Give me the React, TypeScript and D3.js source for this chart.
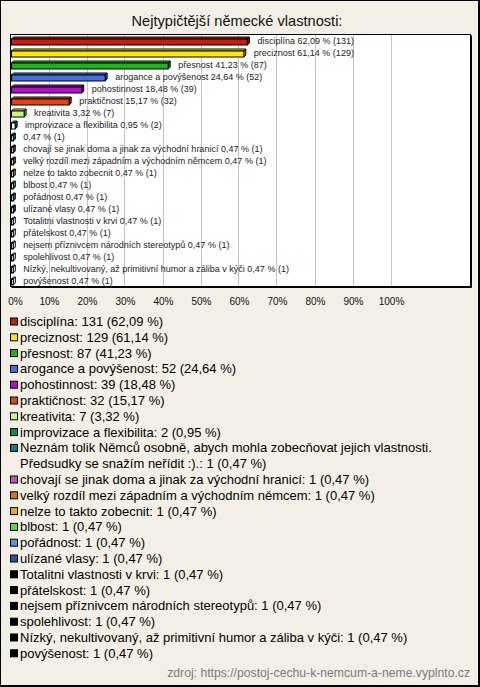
import React, { useMemo } from "react";
import * as d3 from "d3";

const title = "Nejtypičtější německé vlastnosti:";
const source = "zdroj: https://postoj-cechu-k-nemcum-a-neme.vyplnto.cz";

const categories = [
  "disciplína",
  "preciznost",
  "přesnost",
  "arogance a povýšenost",
  "pohostinnost",
  "praktičnost",
  "kreativita",
  "improvizace a flexibilita",
  "Neznám tolik Němců osobně, abych mohla zobecňovat jejich vlastnosti. Předsudky se snažím neřídit :).",
  "chovají se jinak doma a jinak za východní hranicí",
  "velký rozdíl mezi západním a východním němcem",
  "nelze to takto zobecnit",
  "blbost",
  "pořádnost",
  "ulízané vlasy",
  "Totalitni vlastnosti v krvi",
  "přátelskost",
  "nejsem příznivcem národních stereotypů",
  "spolehlivost",
  "Nízký, nekultivovaný, až primitivní humor a záliba v kýči",
  "povýšenost",
];

const barNames = [
  "disciplína",
  "preciznost",
  "přesnost",
  "arogance a povýšenost",
  "pohostinnost",
  "praktičnost",
  "kreativita",
  "improvizace a flexibilita",
  "",
  "chovají se jinak doma a jinak za východní hranicí",
  "velký rozdíl mezi západním a východním němcem",
  "nelze to takto zobecnit",
  "blbost",
  "pořádnost",
  "ulízané vlasy",
  "Totalitni vlastnosti v krvi",
  "přátelskost",
  "nejsem příznivcem národních stereotypů",
  "spolehlivost",
  "Nízký, nekultivovaný, až primitivní humor a záliba v kýči",
  "povýšenost",
];

const counts = [131, 129, 87, 52, 39, 32, 7, 2, 1, 1, 1, 1, 1, 1, 1, 1, 1, 1, 1, 1, 1];
const percents = [
  62.09, 61.14, 41.23, 24.64, 18.48, 15.17, 3.32, 0.95, 0.47, 0.47, 0.47, 0.47, 0.47, 0.47,
  0.47, 0.47, 0.47, 0.47, 0.47, 0.47, 0.47,
];

const colors = [
  "#C0200F",
  "#FFE600",
  "#20B020",
  "#4070E8",
  "#B010C8",
  "#E04412",
  "#C8F880",
  "#108A50",
  "#1A7890",
  "#C050C0",
  "#E0700A",
  "#E8B000",
  "#50E040",
  "#6090E0",
  "#2850B0",
  "#000000",
  "#000000",
  "#000000",
  "#000000",
  "#000000",
  "#000000",
];

const tickValues = [0, 10, 20, 30, 40, 50, 60, 70, 80, 90, 100];
const tickLabels = ["0%", "10%", "20%", "30%", "40%", "50%", "60%", "70%", "80%", "90%", "100%"];

const W = 480;
const H = 687;
const FONT = "'Liberation Sans', Arial, sans-serif";

const fmt = (v: number) => v.toFixed(2).replace(".", ",");

function wrapText(text: string, maxWidth: number, font: string): string[] {
  const canvas = document.createElement("canvas");
  const ctx = canvas.getContext("2d");
  if (!ctx) return [text];
  ctx.font = font;
  const words = text.split(" ");
  const lines: string[] = [];
  let cur = "";
  for (const w of words) {
    const test = cur ? cur + " " + w : w;
    if (ctx.measureText(test).width > maxWidth && cur) {
      lines.push(cur);
      cur = w;
    } else {
      cur = test;
    }
  }
  if (cur) lines.push(cur);
  return lines;
}

export default function App() {
  const plot = { left: 10.5, top: 34.5, right: 470.5, bottom: 286.5 };
  const x = d3.scaleLinear().domain([0, 100]).range([11.5, 391.5]);
  const y = d3
    .scaleBand<number>()
    .domain(d3.range(categories.length))
    .range([35, 287]);
  const depth = 2;
  const barH = 6;

  const legendLines = useMemo(() => {
    const out: { text: string; color: string | null; line: number }[] = [];
    let line = 0;
    categories.forEach((c, i) => {
      const txt = `${c}: ${counts[i]} (${fmt(percents[i])} %)`;
      const ls = wrapText(txt, 452, `13px ${FONT}`);
      ls.forEach((t, j) => {
        out.push({ text: t, color: j === 0 ? colors[i] : null, line });
        line++;
      });
    });
    return out;
  }, []);

  const legendY = d3.scaleLinear().domain([0, 1]).range([321.5, 337.3]);

  return (
    <svg
      width={W}
      height={H}
      style={{ position: "absolute", left: 0, top: 0, fontFamily: FONT }}
    >
      <rect x={0.5} y={0.5} width={W - 1} height={H - 1} fill="#F2F0E6" stroke="#000" />
      <line x1={W - 1.5} y1={1} x2={W - 1.5} y2={H - 1} stroke="#000" />
      <line x1={1} y1={H - 1.5} x2={W - 1} y2={H - 1.5} stroke="#000" />
      <text x={237} y={25.5} textAnchor="middle" fontSize={14.6} fill="#111">
        {title}
      </text>

      <rect
        x={plot.left}
        y={plot.top}
        width={plot.right - plot.left}
        height={plot.bottom - plot.top}
        fill="#fff"
        stroke="none"
      />
      {tickValues.slice(1).map((t) => (
        <line
          key={t}
          x1={Math.round(x(t)) - 0.5}
          x2={Math.round(x(t)) - 0.5}
          y1={plot.top}
          y2={plot.bottom}
          stroke="#C4C4C4"
        />
      ))}

      {percents.map((p, i) => {
        const x0 = x(0);
        const x1 = x(p);
        const y0 = (y(i) as number) + 4;
        const c = d3.color(colors[i])!;
        const small = p < 1;
        const front = colors[i] === "#000000" || small ? "#fff" : colors[i];
        const topC = colors[i] === "#000000" ? "#fff" : c.brighter(0.6).formatHex();
        const sideC = colors[i] === "#000000" ? "#fff" : c.darker(0.8).formatHex();
        return (
          <g key={i} stroke="#000" strokeWidth={1} strokeLinejoin="miter">
            <path
              d={`M${x0},${y0} L${x0 + depth},${y0 - depth} L${x1 + depth},${y0 - depth} L${x1},${y0} Z`}
              fill={topC}
            />
            <path
              d={`M${x1},${y0} L${x1 + depth},${y0 - depth} L${x1 + depth},${y0 + barH - depth} L${x1},${y0 + barH} Z`}
              fill={sideC}
            />
            <rect x={x0} y={y0} width={Math.max(0, x1 - x0)} height={barH} fill={front} />
          </g>
        );
      })}

      {percents.map((p, i) => (
        <text
          key={i}
          x={x(p) + 10}
          y={(y(i) as number) + 6}
          dy="0.35em"
          fontSize={9}
          fill="#222"
        >
          {`${barNames[i] ? barNames[i] + " " : ""}${fmt(p)} % (${counts[i]})`}
        </text>
      ))}

      <rect
        x={plot.left}
        y={plot.top}
        width={plot.right - plot.left}
        height={plot.bottom - plot.top}
        fill="none"
        stroke="#000"
      />
      <line x1={plot.right + 1} y1={plot.top + 1} x2={plot.right + 1} y2={plot.bottom + 1} stroke="#000" />
      <line x1={plot.left + 1} y1={plot.bottom + 1} x2={plot.right + 1} y2={plot.bottom + 1} stroke="#000" />

      {tickValues.map((t, i) => (
        <text
          key={t}
          x={i === 0 ? 15.5 : x(t)}
          y={305}
          textAnchor="middle"
          fontSize={10}
          fill="#111"
        >
          {tickLabels[i]}
        </text>
      ))}

      {legendLines.map((l, k) => {
        const cy = legendY(l.line);
        return (
          <g key={k}>
            {l.color && (
              <rect x={10.5} y={cy - 3.5} width={7} height={7} fill={l.color} stroke="#000" />
            )}
            <text x={20} y={cy} dy="0.35em" fontSize={13} fill="#000">
              {l.text}
            </text>
          </g>
        );
      })}

      <text x={470} y={677} textAnchor="end" fontSize={12.2} fill="#7a7a7a">
        {source}
      </text>
    </svg>
  );
}
